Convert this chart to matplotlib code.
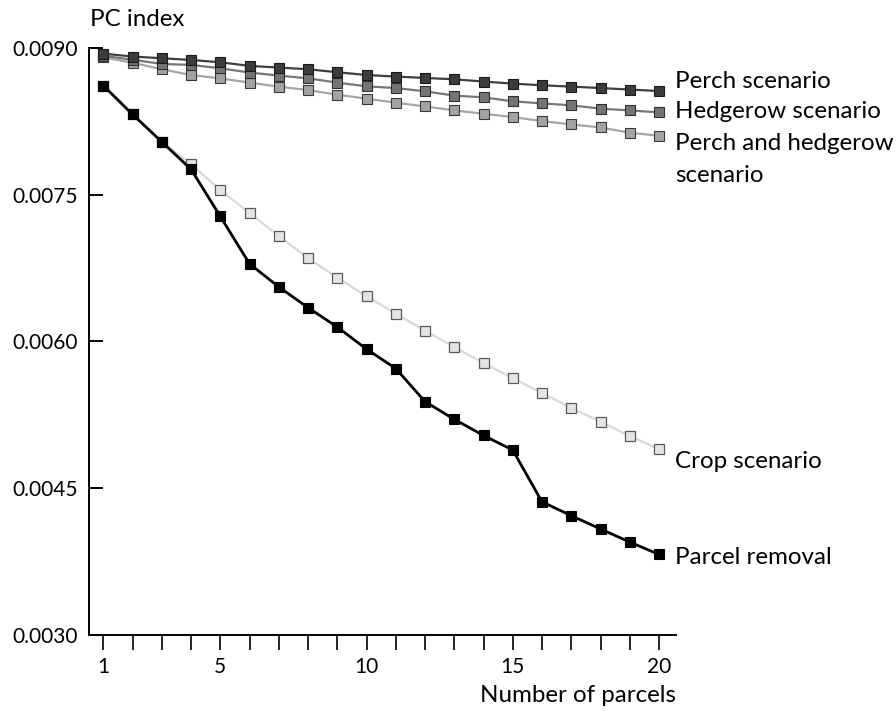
import matplotlib
matplotlib.use("Agg")
import matplotlib.pyplot as plt

plt.rcParams['font.family'] = ['Lato', 'DejaVu Sans']

parcels = list(range(1, 21))

perch = [0.008942, 0.008913, 0.008895, 0.008878, 0.008854, 0.008817, 0.008800, 0.008783,
         0.008752, 0.008724, 0.008708, 0.008694, 0.008680, 0.008657, 0.008636, 0.008619,
         0.008605, 0.008591, 0.008575, 0.008560]
hedgerow = [0.008921, 0.008880, 0.008837, 0.008827, 0.008793, 0.008749, 0.008718, 0.008690,
            0.008646, 0.008608, 0.008591, 0.008557, 0.008513, 0.008496, 0.008455, 0.008434,
            0.008414, 0.008380, 0.008362, 0.008342]
perch_hedgerow = [0.008906, 0.008849, 0.008783, 0.008724, 0.008690, 0.008646, 0.008605, 0.008570,
                  0.008523, 0.008482, 0.008441, 0.008403, 0.008362, 0.008328, 0.008294, 0.008253,
                  0.008219, 0.008188, 0.008134, 0.008103]
crop = [0.008616, 0.008321, 0.008041, 0.007812, 0.007549, 0.007313, 0.007078, 0.006852,
        0.006653, 0.006462, 0.006284, 0.006110, 0.005943, 0.005779, 0.005625, 0.005474,
        0.005320, 0.005181, 0.005033, 0.004900]
parcel_removal = [0.008616, 0.008321, 0.008041, 0.007760, 0.007279, 0.006794, 0.006558, 0.006346,
                  0.006148, 0.005922, 0.005724, 0.005386, 0.005204, 0.005040, 0.004890, 0.004361,
                  0.004220, 0.004084, 0.003950, 0.003823]

y_ticks = [0.0030, 0.0045, 0.0060, 0.0075, 0.0090]
y_tick_labels = ["0.0030", "0.0045", "0.0060", "0.0075", "0.0090"]
x_labeled = [1, 5, 10, 15, 20]

W, H = 896, 711
fig = plt.figure(figsize=(W/100, H/100), dpi=100)
ax = fig.add_axes([89/W, 1-635/H, (676-89)/W, (635-48)/H])

ms = 7
ax.plot(parcels, crop, color='#d9d9d9', lw=1.6, marker='s', ms=ms,
        mfc='#e4e4e4', mec='#5a5a5a', mew=0.9, zorder=2)
ax.plot(parcels, parcel_removal, color='black', lw=2.0, marker='s', ms=ms,
        mfc='black', mec='black', mew=0.8, zorder=3)
ax.plot(parcels, perch_hedgerow, color='#a6a6a6', lw=1.6, marker='s', ms=ms,
        mfc='#a3a3a3', mec='#3a3a3a', mew=0.8, zorder=4)
ax.plot(parcels, hedgerow, color='#777777', lw=1.6, marker='s', ms=ms,
        mfc='#747474', mec='#303030', mew=0.8, zorder=5)
ax.plot(parcels, perch, color='#404040', lw=1.6, marker='s', ms=ms,
        mfc='#3c3c3c', mec='#1a1a1a', mew=0.8, zorder=6)

x_per_px = 19 / (659 - 103.3)
ax.set_xlim(1 - (103.3 - 89) * x_per_px, 20 + (676 - 659) * x_per_px)
ax.set_ylim(0.0030, 0.0090)

for s in ['top', 'right']:
    ax.spines[s].set_visible(False)
for s in ['left', 'bottom']:
    ax.spines[s].set_linewidth(1.4)
    ax.spines[s].set_color('black')

ax.set_yticks(y_ticks)
ax.set_yticklabels(y_tick_labels)
ax.set_xticks(parcels)
ax.set_xticklabels([str(p) if p in x_labeled else "" for p in parcels])

ax.tick_params(axis='y', direction='in', length=10, width=1.4, pad=8, labelsize=15)
ax.tick_params(axis='x', direction='out', length=11, width=1.2, pad=5, labelsize=15)

# fit a common label font size to the reference text widths
renderer = fig.canvas.get_renderer()
targets = [("PC index", 100), ("Perch scenario", 154), ("Hedgerow scenario", 204),
           ("Crop scenario", 144), ("Parcel removal", 155), ("Number of parcels", 196)]
ratios = []
for txt, tw in targets:
    t = fig.text(0, 0, txt, fontsize=16)
    ratios.append(tw / t.get_window_extent(renderer).width)
    t.remove()
fs = 16 * sum(ratios) / len(ratios)

def lab(txt, xpix, ypix, ha='left'):
    fig.text(xpix/W, 1-ypix/H, txt, ha=ha, va='center', fontsize=fs)

lab("Perch scenario", 675, 81)
lab("Hedgerow scenario", 675, 112)
lab("Perch and hedgerow", 675, 144)
lab("scenario", 675, 175)
lab("Crop scenario", 675, 462)
lab("Parcel removal", 675, 557)
lab("PC index", 90, 20)
lab("Number of parcels", 676, 695, ha='right')

fig.savefig("out.png", dpi=100)
